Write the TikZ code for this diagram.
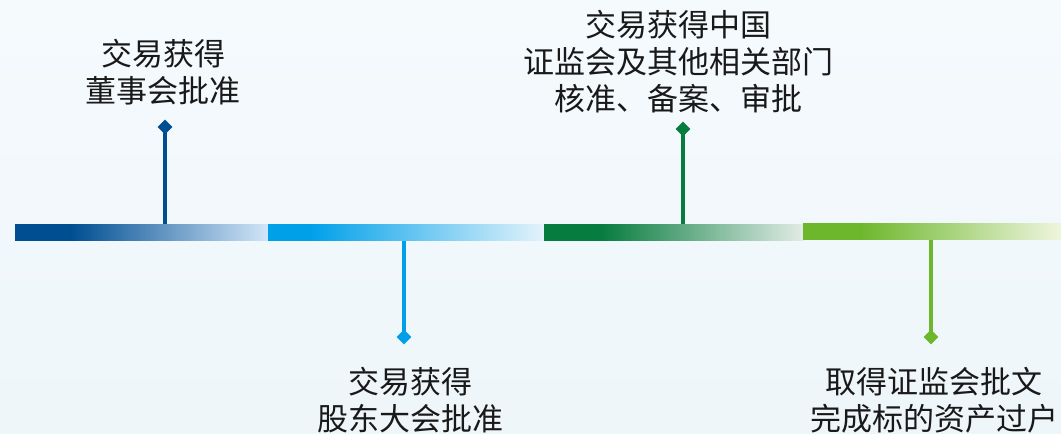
\documentclass[tikz,border=0pt]{standalone}
\usepackage{fontspec}
\newfontfamily\cjk{Noto Sans CJK SC}
\usepackage{xcolor}
\usepackage{tikz}
\usetikzlibrary{shapes.geometric,positioning}

\definecolor{navy}{HTML}{004E92}
\definecolor{navyfade}{HTML}{D2E6F8}
\definecolor{sky}{HTML}{00A0E9}
\definecolor{skyfade}{HTML}{E4F3FB}
\definecolor{forest}{HTML}{077C3F}
\definecolor{forestfade}{HTML}{E2ECE5}
\definecolor{lime}{HTML}{6DB72C}
\definecolor{limefade}{HTML}{EFF5DE}
\definecolor{bgtop}{HTML}{F5FAFD}
\definecolor{bgbottom}{HTML}{EEF6FA}

\pgfdeclarehorizontalshading{navybar}{100bp}{color(0bp)=(navy); color(36bp)=(navy); color(75bp)=(navyfade); color(100bp)=(navyfade)}
\pgfdeclarehorizontalshading{skybar}{100bp}{color(0bp)=(sky); color(32.6bp)=(sky); color(75bp)=(skyfade); color(100bp)=(skyfade)}
\pgfdeclarehorizontalshading{forestbar}{100bp}{color(0bp)=(forest); color(36bp)=(forest); color(75bp)=(forestfade); color(100bp)=(forestfade)}
\pgfdeclarehorizontalshading{limebar}{100bp}{color(0bp)=(lime); color(36bp)=(lime); color(75bp)=(limefade); color(100bp)=(limefade)}

\tikzset{
  dia/.style={diamond, fill=#1, inner sep=0pt, minimum width=15pt, minimum height=15pt},
  stem/.style={line width=3.5pt, draw=#1},
  lbl/.style={align=center, text=black!90}
}

\begin{document}
\begin{tikzpicture}[x=1pt, y=-1pt, font=\cjk\fontsize{31}{37}\selectfont]
    \shade[top color=bgtop, bottom color=bgbottom] (0,0) rectangle (1061,434);
    \useasboundingbox (0,0) rectangle (1061,434);

    \coordinate (b1) at (165,225);
    \coordinate (b2) at (404,239);
    \coordinate (b3) at (683,227);
    \coordinate (b4) at (931,238);

    \node[dia=navy] (d1) at (165,127) {};
    \node[dia=sky] (d2) at (404,337) {};
    \node[dia=forest] (d3) at (683,129) {};
    \node[dia=lime] (d4) at (931,337) {};

    \draw[stem=navy] (b1) -- (d1.center);
    \draw[stem=sky] (b2) -- (d2.center);
    \draw[stem=forest] (b3) -- (d3.center);
    \draw[stem=lime] (b4) -- (d4.center);

    % timeline bar
    \shade[shading=navybar] (15,224) rectangle (268.5,240);
    \shade[shading=skybar] (268,224) rectangle (544.5,240);
    \shade[shading=forestbar] (544,224) rectangle (803.5,240);
    \shade[shading=limebar] (803,223) rectangle (1061,239);

    \node[lbl] (t1) at (163,72.5) {交易获得\\董事会批准};
    \node[lbl] (t2) at (410,400) {交易获得\\股东大会批准};
    \node[lbl] (t3) at (678,61.5) {交易获得中国\\证监会及其他相关部门\\核准、备案、审批};
    \node[lbl] (t4) at (934,400) {取得证监会批文\\完成标的资产过户};
\end{tikzpicture}
\end{document}
